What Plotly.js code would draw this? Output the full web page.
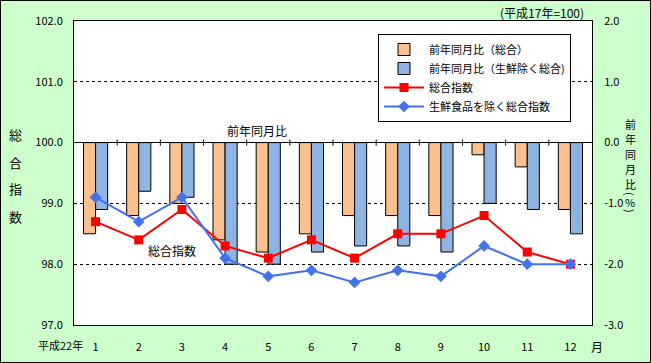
<!DOCTYPE html>
<html>
<head>
<meta charset="utf-8">
<script src="https://cdn.plot.ly/plotly-3.0.1.min.js"></script>
<style>
html,body{margin:0;padding:0;background:#CCFFCC;}
#chart{width:649px;height:361px;border:1px solid #000;}
</style>
</head>
<body>
<div id="chart"></div>
<script>
const months = [1,2,3,4,5,6,7,8,9,10,11,12];
const monthLabels = ['1','2','3','4','5','6','7','8','9','10','11','12'];
const yoyTotal = [-1.5,-1.2,-1.0,-1.6,-1.8,-1.5,-1.2,-1.2,-1.2,-0.2,-0.4,-1.1];
const yoyCore  = [-1.1,-0.8,-0.9,-2.0,-2.0,-1.8,-1.7,-1.7,-1.8,-1.0,-1.1,-1.5];
const indexTotal = [98.7,98.4,98.9,98.3,98.1,98.4,98.1,98.5,98.5,98.8,98.2,98.0];
const indexCore  = [99.1,98.7,99.1,98.1,97.8,97.9,97.7,97.9,97.8,98.3,98.0,98.0];
const seriesNames = ['前年同月比（総合）','前年同月比（生鮮除く総合)','総合指数','生鮮食品を除く総合指数'];
const leftTicks = [97,98,99,100,101,102];
const leftTickText = ['97.0','98.0','99.0','100.0','101.0','102.0'];
const rightTicks = [-3,-2,-1,0,1,2];
const rightTickText = ['-3.0','-2.0','-1.0','0.0','1.0','2.0'];

const FONT = '"Noto Sans CJK JP", "Noto Sans", sans-serif';

const data = [
  {type:'bar', x:months, y:yoyTotal, name:seriesNames[0], yaxis:'y',
   marker:{color:'#FAC090', line:{color:'#000', width:1}}},
  {type:'bar', x:months, y:yoyCore, name:seriesNames[1], yaxis:'y',
   marker:{color:'#8DB4E2', line:{color:'#000', width:1}}},
  {type:'scatter', mode:'lines+markers', x:months, y:indexTotal, name:seriesNames[2], yaxis:'y2',
   line:{color:'#FF0000', width:2}, marker:{symbol:'square', size:9, color:'#FF0000'}},
  {type:'scatter', mode:'lines+markers', x:months, y:indexCore, name:seriesNames[3], yaxis:'y2',
   line:{color:'#4472EE', width:2}, marker:{symbol:'diamond', size:9, color:'#4472EE'}}
];

const shapes = [];
for (let i = 1; i < months.length; i++) {
  shapes.push({type:'line', xref:'x', yref:'y', x0:i+0.5, x1:i+0.5, y0:-0.05, y1:0.05,
    line:{color:'#000', width:1}});
}

function px2x(X){ return (X-1-73)/518; }
function px2y(Y){ return (324-(Y-1))/304; }

const annotations = [
  {text:'(平成17年=100)', x:px2x(542), y:px2y(13), size:12},
  {text:'前年同月比', x:px2x(257), y:px2y(130), size:12},
  {text:'総合指数', x:px2x(172), y:px2y(250), size:12},
  {text:'平成22年', x:px2x(60), y:px2y(345)},
  {text:'月', x:px2x(597), y:px2y(346), size:12}
];
const leftTitle = ['総','合','指','数'];
const leftY = [134,162,188,216];
leftTitle.forEach((c,i)=>annotations.push({text:c, x:px2x(15), y:px2y(leftY[i]), size:13}));
const rightTitle = ['前','年','同','月','比','(','%',')'];
const rightY = [124,139,154,169,184,194,202,211];
const rightAngle = [0,0,0,0,0,90,0,90];
const rightSize = [11,11,11,11,11,11,11,11];
rightTitle.forEach((c,i)=>annotations.push({text:c, x:px2x(630), y:px2y(rightY[i]), size:rightSize[i], angle:rightAngle[i]}));

const layout = {
  width:649, height:361,
  margin:{l:73, r:58, t:20, b:37, pad:0},
  paper_bgcolor:'#CCFFCC', plot_bgcolor:'#FFFFFF',
  font:{family:FONT, size:11, color:'#000'},
  showlegend:true,
  legend:{x:px2x(378), y:px2y(34), xanchor:'left', yanchor:'top',
    bgcolor:'#FFFFFF', bordercolor:'#000', borderwidth:1,
    font:{family:FONT, size:11}, traceorder:'normal', itemwidth:40, tracegroupgap:0},
  barmode:'group', bargap:0.44, bargroupgap:0,
  xaxis:{range:[0.5,12.5], tickvals:months, ticktext:monthLabels, ticks:'', showgrid:false,
    zeroline:false, showline:true, linecolor:'#000', linewidth:1, mirror:true,
    ticklabelstandoff:12, tickfont:{family:FONT, size:11}, fixedrange:true},
  yaxis:{range:[-3,2], tickvals:rightTicks, ticktext:rightTickText, side:'right',
    showgrid:true, gridcolor:'#000', griddash:'dot', gridwidth:1,
    zeroline:true, zerolinecolor:'#000', zerolinewidth:1,
    showline:true, linecolor:'#000', linewidth:1, ticks:'', ticklabelstandoff:9,
    tickfont:{family:FONT, size:11}},
  yaxis2:{range:[97,102], tickvals:leftTicks, ticktext:leftTickText, side:'left', overlaying:'y',
    showgrid:false, zeroline:false, showline:true, linecolor:'#000', linewidth:1, ticks:'',
    ticklabelstandoff:8, tickfont:{family:FONT, size:11}},
  shapes:shapes,
  annotations:annotations.map(a=>({text:a.text, x:a.x, y:a.y, xref:'paper', yref:'paper',
    showarrow:false, xanchor:'center', yanchor:'middle', textangle:a.angle||0,
    font:{family:FONT, size:a.size||11, color:'#000'}}))
};

Plotly.newPlot('chart', data, layout, {staticPlot:true, displayModeBar:false});
</script>
</body>
</html>
